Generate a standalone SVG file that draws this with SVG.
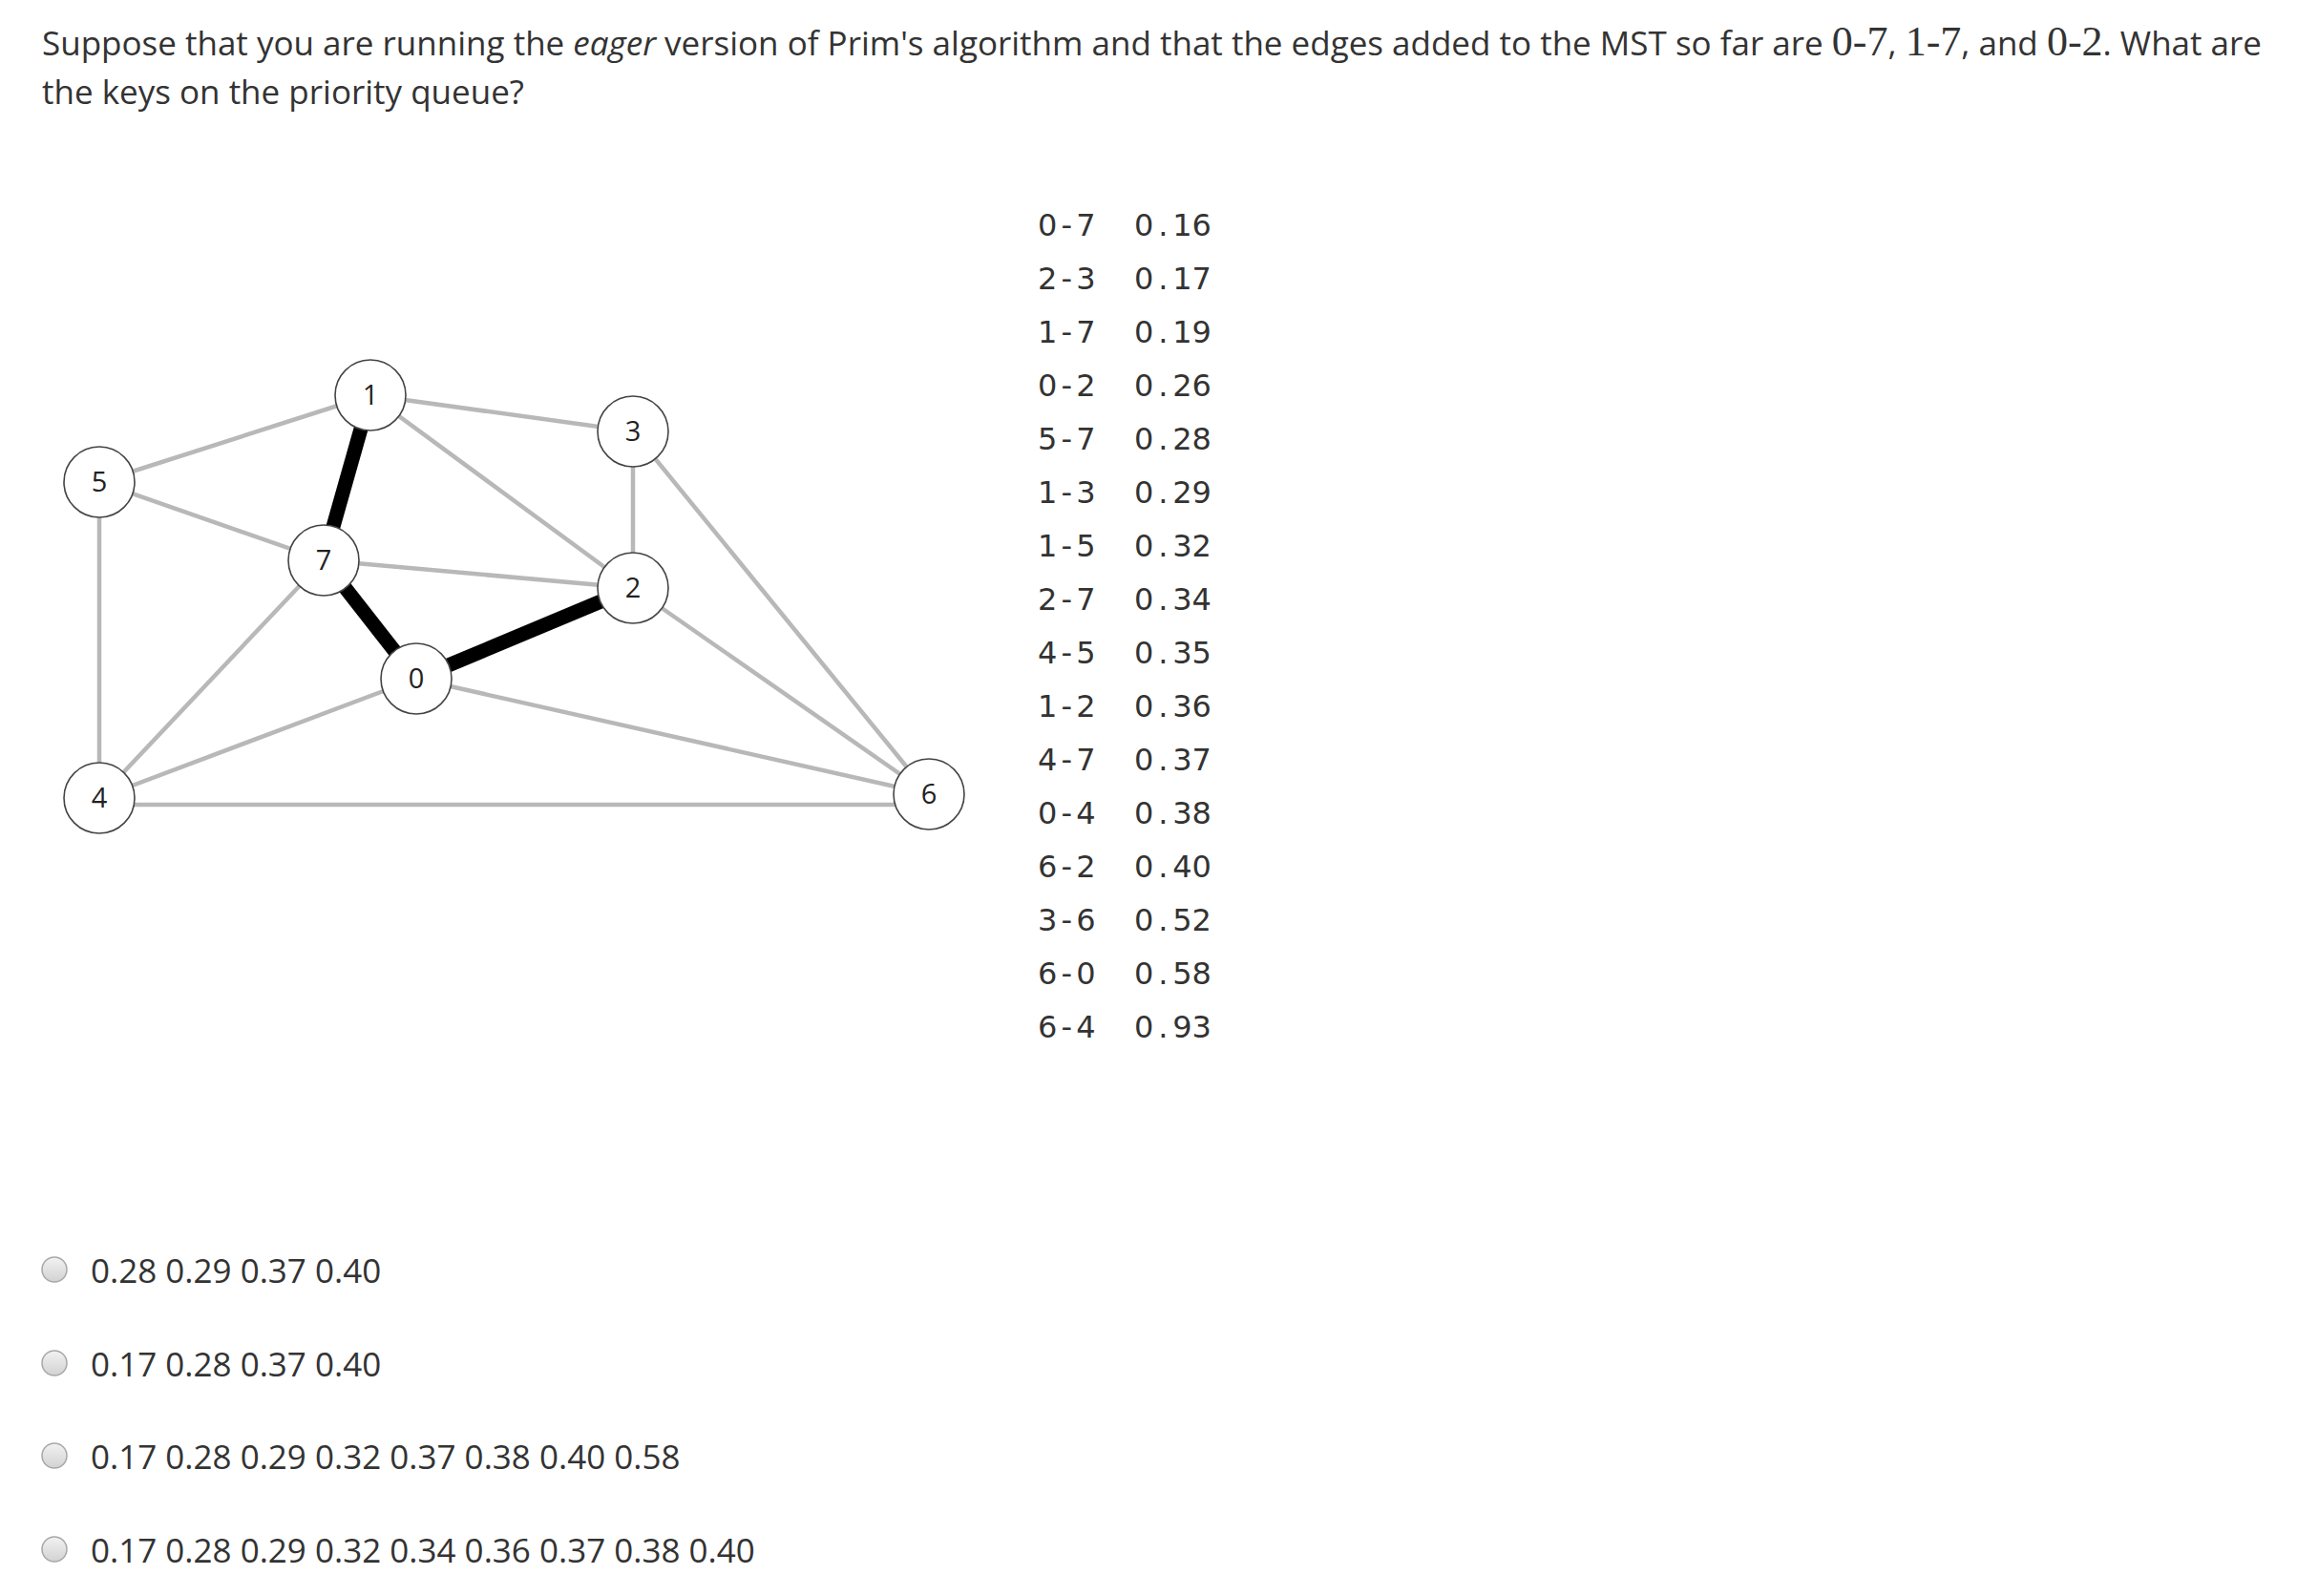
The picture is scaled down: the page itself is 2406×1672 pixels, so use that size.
<svg xmlns="http://www.w3.org/2000/svg" width="2406" height="1672" viewBox="0 0 2406 1672">
<defs>
<style>
.q{font-family:"Open Sans","Liberation Sans",sans-serif;font-size:35px;fill:#333333}
.m{font-family:"Liberation Serif",serif;font-size:44px}
.e{stroke:#b8b8b8;stroke-width:4.5;fill:none}
.t{stroke:#000000;stroke-width:15;fill:none}
.n circle{fill:#ffffff;stroke:#444444;stroke-width:1.6}
.n text{font-family:"Open Sans","Liberation Sans",sans-serif;font-size:29px;fill:#222222;text-anchor:middle}
.tb text{font-family:"DejaVu Sans","Liberation Sans",sans-serif;font-size:32px;fill:#333333;text-anchor:middle}
.opt{font-family:"Open Sans","Liberation Sans",sans-serif;font-size:35px;fill:#333333}
.rb{fill:url(#rg);stroke:#a8a8a8;stroke-width:1.5}
</style>
<linearGradient id="rg" x1="0" y1="0" x2="0" y2="1">
<stop offset="0" stop-color="#f2f2f2"/>
<stop offset="1" stop-color="#d2d2d2"/>
</linearGradient>
</defs>
<rect width="2406" height="1672" fill="#ffffff"/>
<g id="question">
<text class="q" x="44" y="58">Suppose that you are running the <tspan font-style="italic">eager</tspan> version of Prim's algorithm and that the edges added to the MST so far are <tspan class="m">0-7</tspan>, <tspan class="m">1-7</tspan>, and <tspan class="m">0-2</tspan>. What are</text>
<text class="q" x="44" y="109">the keys on the priority queue?</text>
</g>
<g id="edges">
<line class="e" x1="388" y1="414" x2="104" y2="505"/>
<line class="e" x1="388" y1="414" x2="663" y2="452"/>
<line class="e" x1="388" y1="414" x2="663" y2="616"/>
<line class="e" x1="104" y1="505" x2="339" y2="587"/>
<line class="e" x1="104" y1="505" x2="104" y2="836"/>
<line class="e" x1="339" y1="587" x2="663" y2="616"/>
<line class="e" x1="339" y1="587" x2="104" y2="836"/>
<line class="e" x1="436" y1="711" x2="104" y2="836"/>
<line class="e" x1="436" y1="711" x2="973" y2="832"/>
<line class="e" x1="663" y1="452" x2="663" y2="616"/>
<line class="e" x1="663" y1="452" x2="973" y2="832"/>
<line class="e" x1="663" y1="616" x2="973" y2="832"/>
<line class="e" x1="104" y1="843" x2="973" y2="843"/>
<line class="t" x1="388" y1="414" x2="339" y2="587"/>
<line class="t" x1="339" y1="587" x2="436" y2="711"/>
<line class="t" x1="436" y1="711" x2="663" y2="616"/>
</g>
<g id="node1" class="n"><circle cx="388" cy="414" r="37"/><text x="388" y="424">1</text></g>
<g id="node3" class="n"><circle cx="663" cy="452" r="37"/><text x="663" y="462">3</text></g>
<g id="node5" class="n"><circle cx="104" cy="505" r="37"/><text x="104" y="515">5</text></g>
<g id="node7" class="n"><circle cx="339" cy="587" r="37"/><text x="339" y="597">7</text></g>
<g id="node2" class="n"><circle cx="663" cy="616" r="37"/><text x="663" y="626">2</text></g>
<g id="node0" class="n"><circle cx="436" cy="711" r="37"/><text x="436" y="721">0</text></g>
<g id="node4" class="n"><circle cx="104" cy="836" r="37"/><text x="104" y="846">4</text></g>
<g id="node6" class="n"><circle cx="973" cy="832" r="37"/><text x="973" y="842">6</text></g>
<g id="weights" class="tb">
<text x="1097.1 1117.3 1137.5" y="247">0-7</text><text x="1198.1 1218.3 1238.5 1258.7" y="247">0.16</text>
<text x="1097.1 1117.3 1137.5" y="303">2-3</text><text x="1198.1 1218.3 1238.5 1258.7" y="303">0.17</text>
<text x="1097.1 1117.3 1137.5" y="359">1-7</text><text x="1198.1 1218.3 1238.5 1258.7" y="359">0.19</text>
<text x="1097.1 1117.3 1137.5" y="415">0-2</text><text x="1198.1 1218.3 1238.5 1258.7" y="415">0.26</text>
<text x="1097.1 1117.3 1137.5" y="471">5-7</text><text x="1198.1 1218.3 1238.5 1258.7" y="471">0.28</text>
<text x="1097.1 1117.3 1137.5" y="527">1-3</text><text x="1198.1 1218.3 1238.5 1258.7" y="527">0.29</text>
<text x="1097.1 1117.3 1137.5" y="583">1-5</text><text x="1198.1 1218.3 1238.5 1258.7" y="583">0.32</text>
<text x="1097.1 1117.3 1137.5" y="639">2-7</text><text x="1198.1 1218.3 1238.5 1258.7" y="639">0.34</text>
<text x="1097.1 1117.3 1137.5" y="695">4-5</text><text x="1198.1 1218.3 1238.5 1258.7" y="695">0.35</text>
<text x="1097.1 1117.3 1137.5" y="751">1-2</text><text x="1198.1 1218.3 1238.5 1258.7" y="751">0.36</text>
<text x="1097.1 1117.3 1137.5" y="807">4-7</text><text x="1198.1 1218.3 1238.5 1258.7" y="807">0.37</text>
<text x="1097.1 1117.3 1137.5" y="863">0-4</text><text x="1198.1 1218.3 1238.5 1258.7" y="863">0.38</text>
<text x="1097.1 1117.3 1137.5" y="919">6-2</text><text x="1198.1 1218.3 1238.5 1258.7" y="919">0.40</text>
<text x="1097.1 1117.3 1137.5" y="975">3-6</text><text x="1198.1 1218.3 1238.5 1258.7" y="975">0.52</text>
<text x="1097.1 1117.3 1137.5" y="1031">6-0</text><text x="1198.1 1218.3 1238.5 1258.7" y="1031">0.58</text>
<text x="1097.1 1117.3 1137.5" y="1087">6-4</text><text x="1198.1 1218.3 1238.5 1258.7" y="1087">0.93</text>
</g>
<g id="option1"><circle class="rb" cx="57" cy="1330" r="13"/><text class="opt" x="95" y="1344">0.28 0.29 0.37 0.40</text></g>
<g id="option2"><circle class="rb" cx="57" cy="1428" r="13"/><text class="opt" x="95" y="1442">0.17 0.28 0.37 0.40</text></g>
<g id="option3"><circle class="rb" cx="57" cy="1525" r="13"/><text class="opt" x="95" y="1539">0.17 0.28 0.29 0.32 0.37 0.38 0.40 0.58</text></g>
<g id="option4"><circle class="rb" cx="57" cy="1623" r="13"/><text class="opt" x="95" y="1637">0.17 0.28 0.29 0.32 0.34 0.36 0.37 0.38 0.40</text></g>
</svg>
